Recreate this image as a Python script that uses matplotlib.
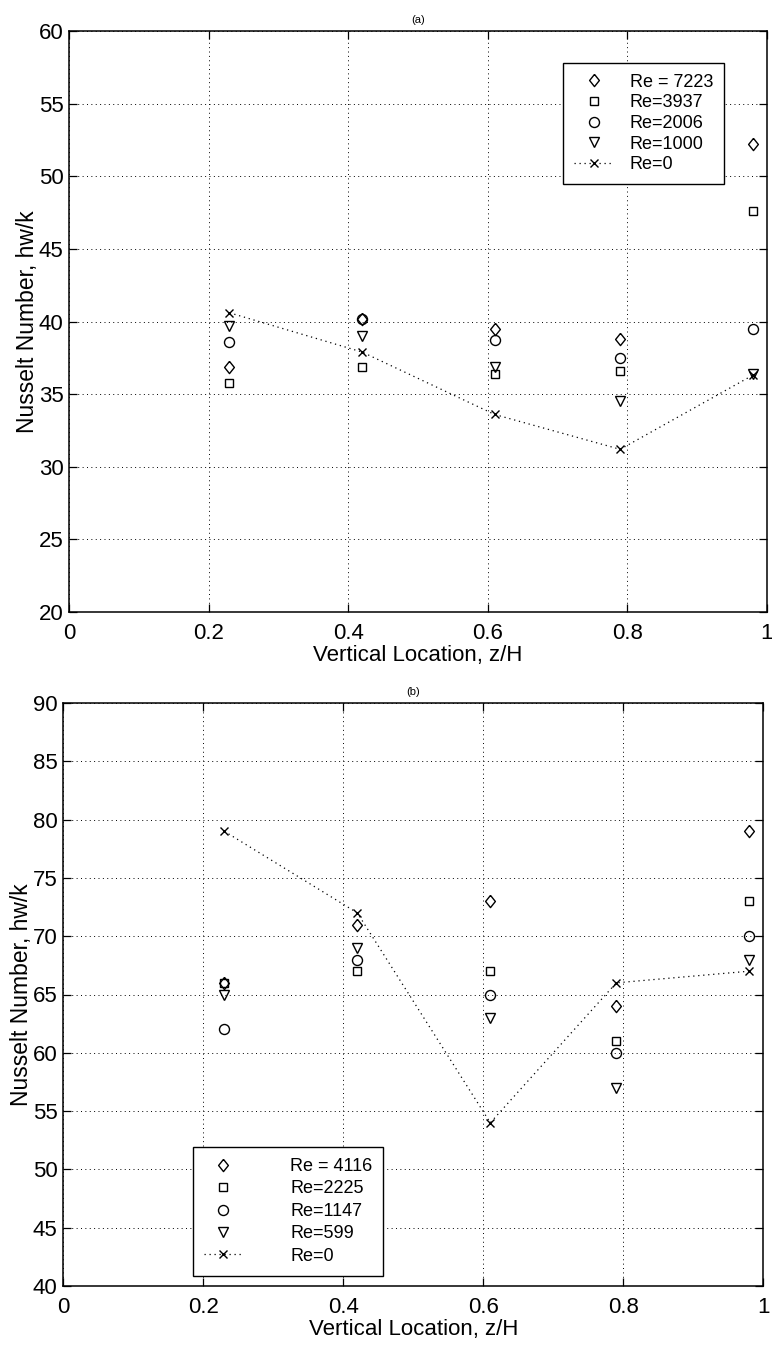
import matplotlib
matplotlib.use("Agg")
import matplotlib.pyplot as plt

plt.rcParams['font.family'] = ['Liberation Sans', 'DejaVu Sans']

# ---- data ----
z_loc = [0.23, 0.42, 0.61, 0.79, 0.98]

labels_a = ["Re = 7223", "Re=3937", "Re=2006", "Re=1000", "Re=0"]
nu_a_7223 = [36.9, 40.2, 39.5, 38.8, 52.2]
nu_a_3937 = [35.8, 36.9, 36.4, 36.6, 47.6]
nu_a_2006 = [38.6, 40.2, 38.7, 37.5, 39.5]
nu_a_1000 = [39.7, 39.0, 36.9, 34.5, 36.4]
nu_a_0 = [40.6, 37.9, 33.6, 31.2, 36.3]

labels_b = ["Re = 4116", "Re=2225", "Re=1147", "Re=599", "Re=0"]
nu_b_4116 = [66, 71, 73, 64, 79]
nu_b_2225 = [66, 67, 67, 61, 73]
nu_b_1147 = [62, 68, 65, 60, 70]
nu_b_599 = [65, 69, 63, 57, 68]
nu_b_0 = [79, 72, 54, 66, 67]

xticks = [0, 0.2, 0.4, 0.6, 0.8, 1]
xticklabels = ["0", "0.2", "0.4", "0.6", "0.8", "1"]
yticks_a = list(range(20, 61, 5))
yticks_b = list(range(40, 91, 5))

# ---- style ----
W, H = 772, 1351
fig = plt.figure(figsize=(W / 100, H / 100), dpi=100)

diamond = [(0, 1), (0.8, 0), (0, -1), (-0.8, 0), (0, 1)]
mstyles = [
    dict(marker=diamond, markersize=8.8),
    dict(marker='s', markersize=5.8),
    dict(marker='o', markersize=7.2),
    dict(marker='v', markersize=7.2),
]
common = dict(linestyle='none', markerfacecolor='none', markeredgecolor='black',
              markeredgewidth=1.0, color='black')
grid_ls = (0, (1, 3.5))


def make_panel(rect, series, zero, labels, ylim, yticks, title, leg_kw):
    ax = fig.add_axes(rect)
    for vals, st, lab in zip(series, mstyles, labels[:4]):
        ax.plot(z_loc, vals, label=lab, **common, **st)
    ax.plot(z_loc, zero, color='black', linestyle=(0, (1, 3)), linewidth=0.9,
            marker='x', markersize=5.5, markeredgewidth=1.0, label=labels[4])
    ax.set_xlim(0, 1)
    ax.set_ylim(*ylim)
    ax.set_xticks(xticks)
    ax.set_xticklabels(xticklabels)
    ax.set_yticks(yticks)
    ax.grid(True, color='black', linestyle=grid_ls, linewidth=0.7)
    ax.tick_params(direction='in', length=6, width=0.9, top=True, right=True,
                   labelsize=16, pad=8)
    ax.tick_params(axis='y', pad=4)
    for s in ax.spines.values():
        s.set_linewidth(1.1)
    ax.set_xlabel("Vertical Location, z/H", fontsize=16, labelpad=1)
    ax.set_ylabel("Nusselt Number, hw/k", fontsize=16.5, labelpad=0)
    ax.set_title(title, fontsize=8, pad=6)
    leg = ax.legend(fontsize=13, frameon=True, fancybox=False, edgecolor='black',
                    framealpha=1, borderaxespad=0, **leg_kw)
    leg.get_frame().set_linewidth(1.0)
    return ax


ax_a = make_panel([69 / W, 1 - 612 / H, 697.7 / W, 581 / H],
                  [nu_a_7223, nu_a_3937, nu_a_2006, nu_a_1000], nu_a_0,
                  labels_a, (20, 60), yticks_a, "(a)",
                  dict(loc='upper left', bbox_to_anchor=(0.708, 0.945),
                       handlelength=2.2, handletextpad=0.9, borderpad=0.6,
                       labelspacing=0.2))

ax_b = make_panel([63.3 / W, 1 - 1286 / H, 700 / W, 583 / H],
                  [nu_b_4116, nu_b_2225, nu_b_1147, nu_b_599], nu_b_0,
                  labels_b, (40, 90), yticks_b, "(b)",
                  dict(loc='upper left', bbox_to_anchor=(0.185, 0.238),
                       handlelength=2.2, handletextpad=2.6, borderpad=0.6,
                       labelspacing=0.3))

fig.savefig("out.png", dpi=100)
